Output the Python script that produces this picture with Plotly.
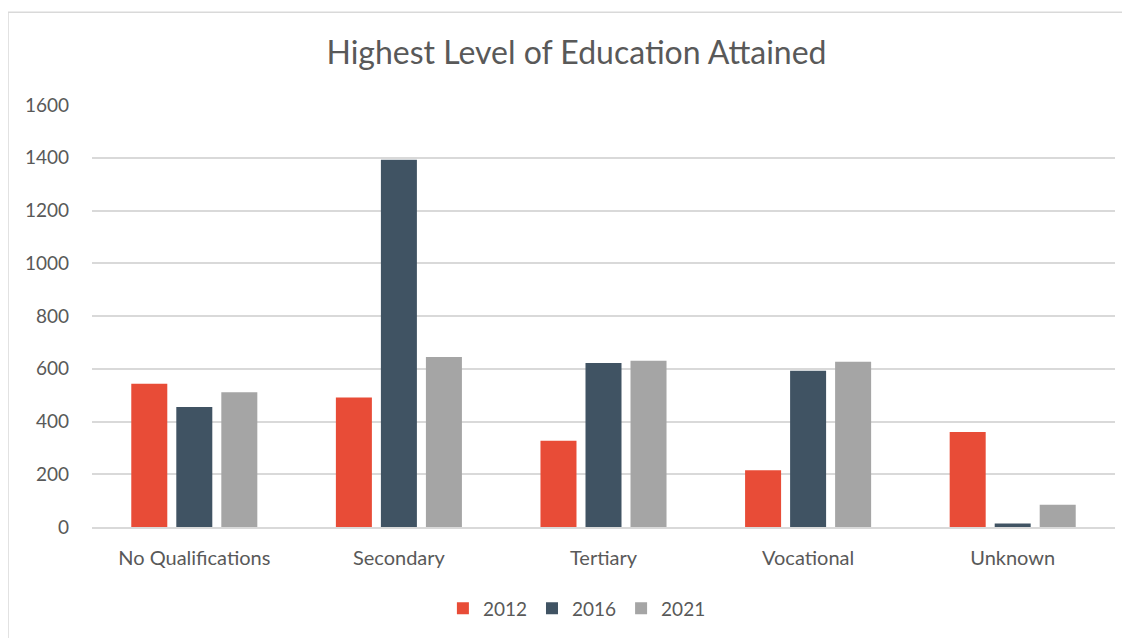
import plotly.graph_objects as go

categories = ["No Qualifications", "Secondary", "Tertiary", "Vocational", "Unknown"]
values_2012 = [543, 491, 327, 215, 360]
values_2016 = [455, 1392, 622, 592, 13]
values_2021 = [511, 645, 630, 627, 84]
y_ticks = [0, 200, 400, 600, 800, 1000, 1200, 1400, 1600]

series = [
    ("2012", values_2012, "#E84C37"),
    ("2016", values_2016, "#405363"),
    ("2021", values_2021, "#A5A5A5"),
]

fig = go.Figure()

for name, vals, color in series:
    fig.add_trace(
        go.Bar(
            x=categories,
            y=vals,
            name=name,
            marker=dict(color=color, line=dict(width=0)),
        )
    )

text_color = "#595959"

# page body has an 8px margin, so the figure is 8px smaller than the window
W, H = 1122, 630
plot_w, plot_h = 1023, 423

fig.update_layout(
    width=W,
    height=H,
    paper_bgcolor="white",
    plot_bgcolor="white",
    barmode="group",
    bargap=0.34,
    bargroupgap=0.2,
    font=dict(family="Lato", size=19, color=text_color),
    title=dict(
        text="Highest Level of Education Attained",
        x=568.5 / W,
        xref="container",
        xanchor="center",
        y=1 - 45 / H,
        yref="container",
        yanchor="middle",
        font=dict(size=32, color=text_color),
    ),
    margin=dict(l=84, r=15, t=97, b=110),
    legend=dict(
        orientation="h",
        x=0.474,
        xanchor="center",
        y=-0.19,
        yanchor="middle",
        font=dict(size=19),
        itemwidth=30,
    ),
    showlegend=True,
    shapes=[
        dict(
            type="rect",
            xref="paper",
            yref="paper",
            x0=-84 / plot_w,
            x1=1060 / plot_w,
            y0=-130 / plot_h,
            y1=1 + 93 / plot_h,
            line=dict(color="#D9D9D9", width=1.5),
            layer="below",
        )
    ],
)

fig.update_xaxes(
    showgrid=False,
    showline=True,
    linecolor="#D9D9D9",
    linewidth=1.5,
    ticks="",
    ticklabelstandoff=12,
    tickfont=dict(size=20),
)

fig.update_yaxes(
    range=[0, 1600],
    tickvals=y_ticks,
    showgrid=True,
    gridcolor="#D9D9D9",
    gridwidth=1.5,
    zeroline=False,
    showline=False,
    ticks="",
    ticklabelstandoff=22,
)

fig.write_html("out.html")
